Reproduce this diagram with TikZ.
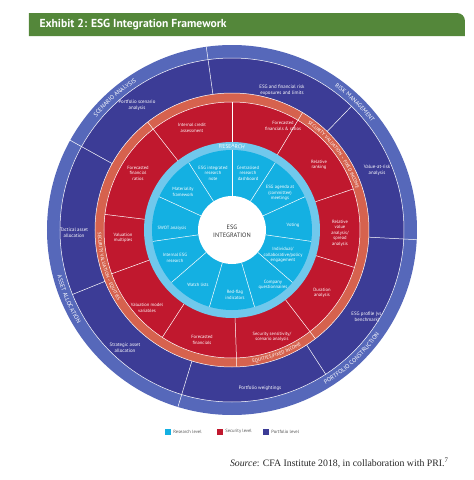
\documentclass[tikz,border=0pt]{standalone}
\usepackage{fontspec}
\setmainfont{Liberation Serif}
\setsansfont{PT Sans}
\usetikzlibrary{positioning,decorations.text}

\definecolor{titlegreen}{RGB}{84,135,58}
\definecolor{resblue}{RGB}{20,176,226}
\definecolor{reslight}{RGB}{112,200,236}
\definecolor{secred}{RGB}{192,24,46}
\definecolor{secband}{RGB}{214,98,78}
\definecolor{portblue}{RGB}{60,60,150}
\definecolor{portband}{RGB}{86,104,186}
\definecolor{legendgray}{RGB}{85,85,85}

\newcommand{\ringlabel}[5]{% radius, start, end, size, text
  \path[decorate, decoration={text along path, text align=center,
      text={|\sffamily\fontsize{#4}{#4}\selectfont\color{white}|#5}}]
    (#2:#1) arc[start angle=#2, end angle=#3, radius=#1];}

\tikzset{
  lbl/.style={text=white, align=center, inner sep=0pt,
    font=\sffamily\fontsize{4.6}{5.5}\selectfont},
  plbl/.style={lbl, font=\sffamily\fontsize{4.9}{6.1}\selectfont},
  sep/.style={white, line width=0.5pt},
  legbox/.style={fill=#1, minimum size=6pt, inner sep=0pt},
  legtext/.style={text=legendgray, inner sep=0pt,
    font=\sffamily\fontsize{4.6}{5}\selectfont}
}

\begin{document}
\begin{tikzpicture}[x=1pt, y=1pt]
\useasboundingbox (-232,-250) rectangle (242,230);

% title bar
\fill[titlegreen] (-203,194) -- (-203,217) -- (225,217)
  arc[start angle=90, end angle=0, radius=8] -- (233,194) -- cycle;
\node[anchor=west, text=white, font=\sffamily\bfseries\fontsize{11.6}{13}\selectfont]
  (title) at (-196,205.5) {Exhibit 2: ESG Integration Framework};

% rings
\fill[portband] (0,0) circle (185);
\fill[portblue] (0,0) circle (172);
\fill[secband] (0,0) circle (137);
\fill[secred] (0,0) circle (128);
\fill[reslight] (0,0) circle (88);
\fill[resblue] (0,0) circle (80);
\draw[sep] (0,0) circle (172) (0,0) circle (137) (0,0) circle (128);

% separators
\foreach \a in {98,151,253,357} \draw[sep] (\a:137) -- (\a:185);
\foreach \a in {46,202,303} \draw[sep] (\a:137) -- (\a:172);
\foreach \a in {128,59,-52.5,-88} \draw[sep] (\a:88) -- (\a:137);
\foreach \a in {90,18.7,-17,-123,-160,173} \draw[sep] (\a:88) -- (\a:128);
\foreach \i in {0,...,10} \draw[sep] (90-\i*32.727:34) -- (90-\i*32.727:80);

\fill[white] (0,0) circle (34);
\node[align=center, text=black!80, font=\sffamily\fontsize{6.3}{7.8}\selectfont]
  (core) at (0,-1) {ESG\\INTEGRATION};

% ring titles
\ringlabel{176.4}{160}{103}{6}{SCENARIO ANALYSIS}
\ringlabel{176.4}{70}{22}{6}{RISK MANAGEMENT}
\ringlabel{180.6}{-80}{-14}{6}{PORTFOLIO CONSTRUCTION}
\ringlabel{180.6}{180}{226}{6}{ASSET ALLOCATION}
\ringlabel{82}{115}{65}{5.5}{RESEARCH}
\ringlabel{130.8}{65}{8}{4.8}{SECURITY VALUATION – FIXED INCOME}
\ringlabel{134.2}{150}{243}{4.8}{SECURITY VALUATION – EQUITIES}
\ringlabel{134.2}{-100}{-40}{4.8}{EQUITIES/FIXED INCOME}

% portfolio level
\node[plbl] (scenario) at (-95,125) {Portfolio scenario\\analysis};
\node[plbl] (riskexp) at (50,140) {ESG and financial risk\\exposures and limits};
\node[plbl] (var) at (145,60) {Value-at-risk\\analysis};
\node[plbl] (profile) at (135,-87) {ESG profile (vs.\\benchmark)};
\node[plbl] (weights) at (28,-158) {Portfolio weightings};
\node[plbl] (strategic) at (-107,-118) {Strategic asset\\allocation};
\node[plbl] (tactical) at (-158,-3) {Tactical asset\\allocation};

% security level
\node[lbl] (credit) at (-40,102) {Internal credit\\assessment};
\node[lbl] (forecast) at (51,104) {Forecasted\\financials \& ratios};
\node[lbl] (ranking) at (87,65) {Relative\\ranking};
\node[lbl] (relvalue) at (108,-3) {Relative\\value\\analysis/\\spread\\analysis};
\node[lbl] (duration) at (90,-63) {Duration\\analysis};
\node[lbl] (sensitivity) at (40,-107) {Security sensitivity/\\scenario analysis};
\node[lbl] (forefin) at (-30,-110) {Forecasted\\financials};
\node[lbl] (valmodel) at (-85,-78) {Valuation model\\variables};
\node[lbl] (valmult) at (-109,-8) {Valuation\\multiples};
\node[lbl] (ratios) at (-94,57) {Forecasted\\financial\\ratios};

% research level
\node[lbl] (note) at (-19,57) {ESG integrated\\research\\note};
\node[lbl] (dashboard) at (16,57) {Centralised\\research\\dashboard};
\node[lbl] (agenda) at (48,37) {ESG agenda at\\(committee)\\meetings};
\node[lbl] (voting) at (61,5) {Voting};
\node[lbl] (engagement) at (51,-25) {Individual/\\collaborative/policy\\engagement};
\node[lbl] (questions) at (41,-55) {Company\\questionnaires};
\node[lbl] (redflag) at (3,-65) {Red-flag\\indicators};
\node[lbl] (watch) at (-34,-55) {Watch lists};
\node[lbl] (internal) at (-57,-28) {Internal ESG\\research};
\node[lbl] (swot) at (-60,2) {SWOT analysis};
\node[lbl] (materiality) at (-49,38) {Materiality\\framework};

% legend
\node[legbox=resblue] (legres) at (-64,-201.5) {};
\node[legtext, right=2pt of legres] (legrestxt) {Research level};
\node[legbox=secred] (legsec) at (-12,-201.5) {};
\node[legtext, right=2pt of legsec] (legsectxt) {Security level};
\node[legbox=portblue] (legport) at (34,-201.5) {};
\node[legtext, right=2pt of legport] (legporttxt) {Portfolio level};

\node[anchor=east, text=black!85, font=\fontsize{9.8}{11}\selectfont] (source) at (220,-233)
  {\textit{Source}: CFA Institute 2018, in collaboration with PRI.\textsuperscript{7}};
\end{tikzpicture}
\end{document}
